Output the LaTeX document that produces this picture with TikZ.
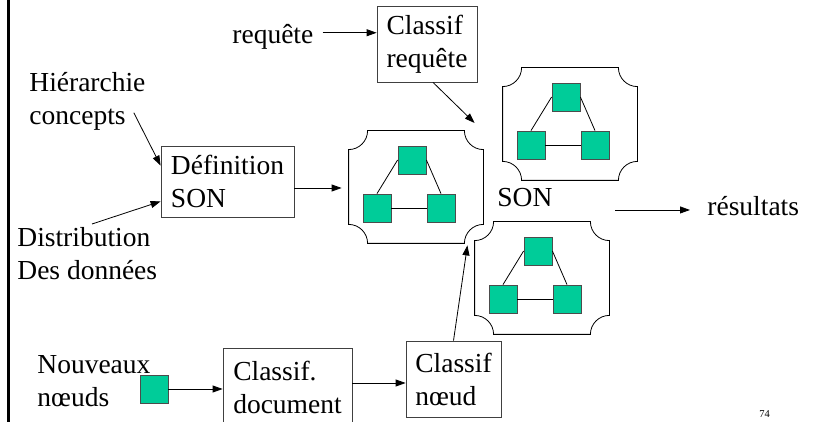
\documentclass[tikz,border=0pt]{standalone}
\usepackage{fontspec}
\setmainfont{Liberation Serif}
\usepackage{tikz}
\usetikzlibrary{arrows.meta}
\definecolor{sonvert}{RGB}{0,204,153}
\tikzstyle{block} = [draw=black!75, rectangle, align=left, inner sep=4pt,
    execute at begin node={\rule{0pt}{31pt}}]
\tikzstyle{txt} = [inner sep=0pt, align=left]
\tikzstyle{peer} = [draw=black!70, fill=sonvert, minimum size=28pt, inner sep=0pt]
\tikzstyle{cadre} = [rectangle, minimum width=134pt, minimum height=112pt, inner sep=0pt]
% one SON: a frame with concave corners holding three peers
\newcommand{\sonnet}[2]{%
  \node [cadre] (#1) at (#2) {};
  \draw ([yshift=-19pt]#1.north west) arc[start angle=-90, end angle=0, radius=19pt]
     -- ([xshift=-19pt]#1.north east) arc[start angle=180, end angle=270, radius=19pt]
     -- ([yshift=19pt]#1.south east) arc[start angle=90, end angle=180, radius=19pt]
     -- ([xshift=19pt]#1.south west) arc[start angle=0, end angle=90, radius=19pt]
     -- cycle;
  \node [peer] (#1-t) at ([shift={(-4pt,27pt)}]#1.center) {};
  \node [peer] (#1-g) at ([shift={(-39pt,-21pt)}]#1.center) {};
  \node [peer] (#1-d) at ([shift={(25pt,-21pt)}]#1.center) {};
  \draw (#1-t.west) -- (#1-g.north);
  \draw (#1-t.east) -- (#1-d.north);
  \draw (#1-g.east) -- (#1-d.west);
}

\begin{document}
\begin{tikzpicture}[x=1pt, y=1pt, line width=0.8pt, >={Triangle[length=10pt,width=7pt]},
    font=\fontsize{27.5}{33}\selectfont]
    \useasboundingbox (0,0) rectangle (814,422);
    \draw [line width=3pt] (8.5,0) -- (8.5,422);

    % texts and blocks
    \node [txt, anchor=base west] (req) at (232,378) {requête};
    \node [block, minimum width=100pt, minimum height=76pt] (creq) at (427,378) {Classif\\requête};
    \node [txt, anchor=north west] (hier) at (29,350) {Hiérarchie\\concepts};
    \node [block, minimum width=133pt, minimum height=71pt] (def) at (227.5,240.5) {Définition\\SON};
    \node [txt, anchor=north west] (dist) at (17,195) {Distribution\\Des données};
    \node [txt, anchor=north west] (nouv) at (37,67) {Nouveaux\\nœuds};
    \node [peer] (nsq) at (154,33) {};
    \node [block, minimum width=129pt, minimum height=78pt] (doc) at (287.5,35) {Classif.\\document};
    \node [block, minimum width=95pt, minimum height=76pt] (cnoeud) at (453.5,43) {Classif\\nœud};
    \node [txt, anchor=base west] (son) at (497,215) {SON};
    \node [txt, anchor=base west] (res) at (707,206) {résultats};
    \node [txt, anchor=base west, font=\fontsize{10.5}{12}\selectfont] (page) at (759,4) {74};

    % the three SON
    \sonnet{f1}{416,235}
    \sonnet{f2}{570,298}
    \sonnet{f3}{542,144}

    % connectors
    \draw [->] ([xshift=9pt,yshift=4.6pt]req.east) -- ([yshift=4.6pt]req.east -| creq.west);
    \draw [->] ([xshift=-12pt,yshift=18pt]hier.south east) -- ([yshift=-20pt]def.north west);
    \draw [->] ([xshift=75pt,yshift=3pt]dist.north west) -- ([yshift=16pt]def.south west);
    \draw [->, shorten >=7pt] ([yshift=-6.5pt]def.east) -- ([yshift=-6.5pt]def.east -| f1.west);
    \draw [->] ([xshift=6pt]creq.south) -- ([xshift=-28pt,yshift=1pt]f2.west);
    \draw [->] ([xshift=-92pt,yshift=-3.4pt]res.west) -- ([xshift=-17pt,yshift=-3.4pt]res.west);
    \draw [->] (nsq.east) -- (nsq.east -| doc.west);
    \draw [->] ([yshift=4pt]doc.east) -- ([yshift=4pt]doc.east -| cnoeud.west);
    \draw [->] (cnoeud.north) -- ([xshift=-16pt,yshift=-2pt]f1.south east);
\end{tikzpicture}
\end{document}
